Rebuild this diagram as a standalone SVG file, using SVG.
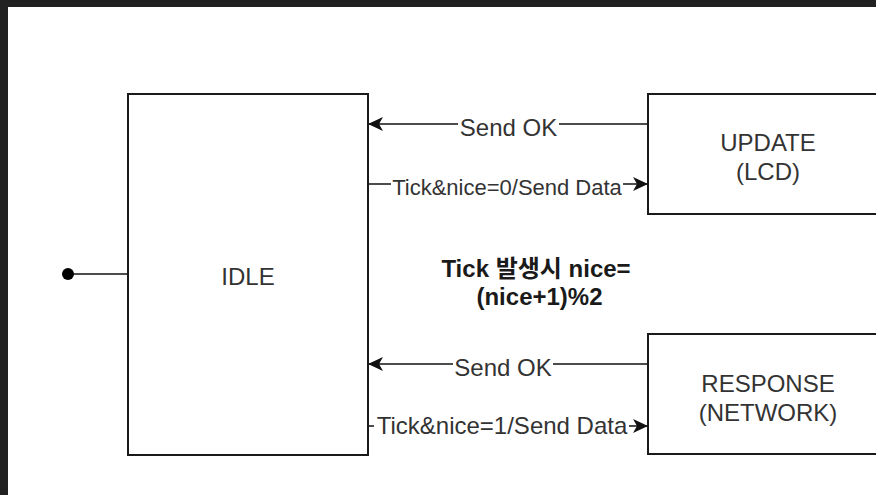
<svg xmlns="http://www.w3.org/2000/svg" width="876" height="495" viewBox="0 0 876 495">
  <style>
    .box { fill: #ffffff; stroke: #1a1a1a; stroke-width: 2; }
    .edge { fill: none; stroke: #111111; stroke-width: 1.7; }
    .node-text { font-family: "Liberation Sans", Arial, "Noto Sans CJK KR", sans-serif; font-size: 24px; fill: #333333; text-anchor: middle; }
    .edge-text { font-family: "Liberation Sans", Arial, "Noto Sans CJK KR", sans-serif; font-size: 24px; fill: #333333; text-anchor: middle; }
    .label-bg { fill: #ffffff; stroke: none; }
    .bold-text { font-family: "Liberation Sans", Arial, "Noto Sans CJK KR", sans-serif; font-size: 24px; font-weight: bold; fill: #1a1a1a; text-anchor: middle; }
  </style>
  <defs>
    <marker id="arrow" viewBox="0 0 15 14" refX="15" refY="7" markerWidth="15" markerHeight="14" markerUnits="userSpaceOnUse" orient="auto">
      <path d="M0,0 L15,7 L0,14 L4,7 Z" fill="#111111"/>
    </marker>
  </defs>

  <rect x="0" y="0" width="876" height="495" fill="#ffffff"/>
  <rect x="0" y="0" width="876" height="7" fill="#212121"/>
  <rect x="0" y="0" width="8" height="495" fill="#212121"/>

  <g id="connectors">
    <g id="initial">
      <line class="edge" x1="68" y1="274" x2="128" y2="274"/>
      <circle cx="68" cy="274" r="6" fill="#000000"/>
    </g>
    <g id="edge-update-idle">
      <line class="edge" x1="648" y1="124" x2="368" y2="124" marker-end="url(#arrow)"/>
      <rect class="label-bg" x="458" y="116" width="101" height="24"/>
      <text class="edge-text" x="508.5" y="136">Send OK</text>
    </g>
    <g id="edge-idle-update">
      <line class="edge" x1="368" y1="184" x2="648" y2="184" marker-end="url(#arrow)"/>
      <rect class="label-bg" x="391" y="176" width="232" height="23"/>
      <text class="edge-text" x="507" y="195" style="font-size:22px">Tick&amp;nice=0/Send Data</text>
    </g>
    <g id="edge-response-idle">
      <line class="edge" x1="648" y1="364" x2="368" y2="364" marker-end="url(#arrow)"/>
      <rect class="label-bg" x="453" y="356" width="100" height="24"/>
      <text class="edge-text" x="503" y="376">Send OK</text>
    </g>
    <g id="edge-idle-response">
      <line class="edge" x1="368" y1="426" x2="648" y2="426" marker-end="url(#arrow)"/>
      <rect class="label-bg" x="374" y="414" width="255" height="25"/>
      <text class="edge-text" x="502" y="434">Tick&amp;nice=1/Send Data</text>
    </g>
  </g>

  <g id="node-idle">
    <rect class="box" x="128" y="94" width="240" height="361"/>
    <text class="node-text" x="248" y="285">IDLE</text>
  </g>

  <g id="node-update">
    <rect class="box" x="648" y="94" width="240" height="120"/>
    <text class="node-text" x="768" y="151">UPDATE</text>
    <text class="node-text" x="768" y="180">(LCD)</text>
  </g>

  <g id="node-response">
    <rect class="box" x="648" y="334" width="240" height="120"/>
    <text class="node-text" x="768" y="392">RESPONSE</text>
    <text class="node-text" x="768" y="421">(NETWORK)</text>
  </g>

  <g id="note">
    <text class="bold-text" x="536" y="277">Tick 발생시 nice=</text>
    <text class="bold-text" x="539.5" y="305">(nice+1)%2</text>
  </g>
</svg>
